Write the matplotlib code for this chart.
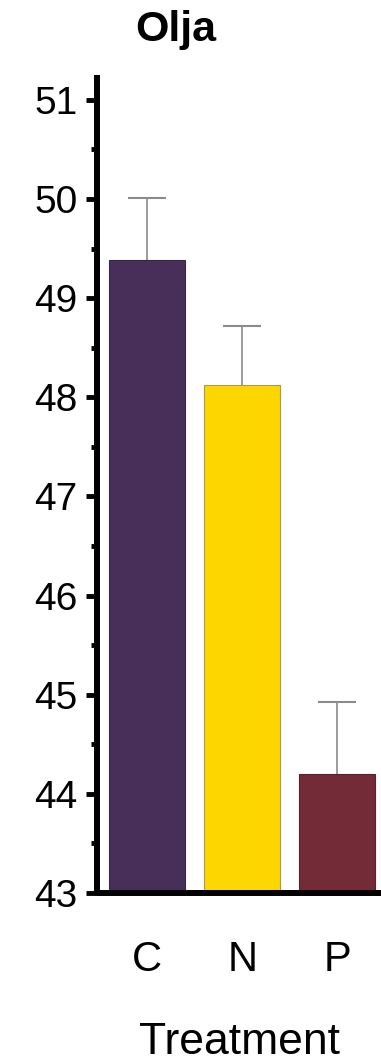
import matplotlib
matplotlib.use("Agg")
import matplotlib.pyplot as plt
from matplotlib.ticker import MultipleLocator

categories = ["C", "N", "P"]
means = [49.38, 48.12, 44.20]
upper_err = [0.63, 0.60, 0.73]
colors = ["#472F59", "#FDD600", "#722B37"]
edgecolors = ["#3a2648", "#a89a50", "#5c2029"]

plt.rcParams["font.family"] = ["Liberation Sans", "DejaVu Sans"]

fig = plt.figure(figsize=(3.81, 10.63), dpi=100)
ax = fig.add_axes([0.2546, 0.1599, 0.7454, 0.7695])

x = list(range(len(categories)))
ax.bar(x, [m - 43 for m in means], bottom=43, width=0.8, color=colors,
       edgecolor=edgecolors, linewidth=0.8, zorder=2)
eb = ax.errorbar(x, means, yerr=[[0] * 3, upper_err], fmt="none", ecolor="#8a8a8a",
                 elinewidth=1.2, capsize=13.7, capthick=1.5, zorder=1)
caplines = eb.lines[1]
if len(caplines) >= 2:
    caplines[0].set_visible(False)
    caplines[1].set_color("#6f6f6f")

ax.set_xlim(-0.53, 2.46)
ax.set_ylim(43, 51.25)
ax.yaxis.set_major_locator(MultipleLocator(1))
ax.yaxis.set_minor_locator(MultipleLocator(0.5))

for s in ["top", "right"]:
    ax.spines[s].set_visible(False)
for s in ["left", "bottom"]:
    ax.spines[s].set_linewidth(4.3)
    ax.spines[s].set_capstyle("butt")

ax.tick_params(axis="y", which="major", length=8, width=3.5, labelsize=28, pad=6)
ax.tick_params(axis="y", which="minor", length=4, width=3.5)
ax.tick_params(axis="x", length=0, labelsize=30, pad=34)
ax.set_xticks(x)
ax.set_xticklabels(categories)

ax.set_xlabel("Treatment", fontsize=32, labelpad=30)
fig.text(0.462, 0.972, "Olja", fontsize=31, fontweight="bold", ha="center", va="center")

fig.savefig("out.png", dpi=100)
